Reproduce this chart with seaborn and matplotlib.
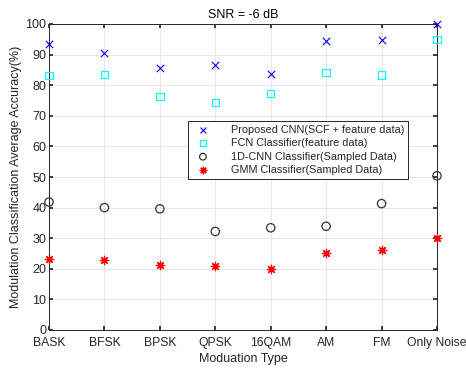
import matplotlib
matplotlib.use("Agg")
import matplotlib.pyplot as plt
import seaborn as sns
import pandas as pd

categories = ["BASK", "BFSK", "BPSK", "QPSK", "16QAM", "AM", "FM", "Only Noise"]
cnn = [93.5, 90.5, 85.5, 86.5, 83.5, 94.5, 94.7, 100.0]
fcn = [83.2, 83.4, 76.3, 74.3, 77.3, 84.2, 83.3, 94.9]
cnn1d = [41.8, 40.0, 39.6, 32.2, 33.4, 33.9, 41.3, 50.4]
gmm = [23.2, 22.9, 21.1, 20.9, 19.8, 25.1, 26.0, 30.0]
labels = ["Proposed CNN(SCF + feature data)", "FCN Classifier(feature data)",
          "1D-CNN Classifier(Sampled Data)", "GMM Classifier(Sampled Data)"]

sns.set_theme(style="whitegrid")
plt.rcParams['font.family'] = ['Liberation Sans', 'DejaVu Sans']
txt = '#262626'

fig = plt.figure(figsize=(4.66, 3.70), dpi=100)
ax = fig.add_axes([49/466, 1-330/370, (437-49)/466, (330-24)/370])

x = list(range(len(categories)))
specs = [
    (cnn, dict(marker='x', color='#0000ff', s=28, linewidths=0.8)),
    (fcn, dict(marker='s', facecolor='none', edgecolor='#00ffff', s=28, linewidths=0.9)),
    (cnn1d, dict(marker='o', facecolor='none', edgecolor='#333333', s=36, linewidths=0.9)),
    (gmm, dict(marker=(8, 2, 0), color='#ff0000', s=36, linewidths=0.9)),
]
for (vals, kw), lab in zip(specs, labels):
    df = pd.DataFrame({"x": x, "y": vals})
    sns.scatterplot(data=df, x="x", y="y", ax=ax, label=lab, clip_on=False, zorder=5, **kw)

ax.set_xlim(0, 7)
ax.set_ylim(0, 100)
ax.set_xticks(x)
ax.set_xticklabels(categories)
ax.set_yticks(range(0, 101, 10))
ax.tick_params(axis='both', direction='in', length=3, labelsize=9, colors=txt, pad=2,
               left=True, bottom=True, top=True, right=True)
ax.tick_params(axis='x', pad=5, labelsize=8.7)
ax.tick_params(labeltop=False, labelright=False)
ax.grid(True, color='#e6e6e6', linewidth=0.7)
ax.set_facecolor('white')
for sp in ax.spines.values():
    sp.set_color('#262626')
    sp.set_linewidth(0.7)
    sp.set_visible(True)

ax.set_xlabel("Moduation Type", fontsize=9, color=txt, labelpad=3)
ax.set_ylabel("Modulation Classification Average Accuracy(%)", fontsize=9, color=txt, labelpad=2)
ax.set_title("SNR = -6 dB", fontsize=9, color='black', pad=4)

leg = ax.legend(loc='upper left', bbox_to_anchor=(0.345, 0.70), fontsize=7.8, frameon=True,
                fancybox=False, edgecolor='#262626', framealpha=1, handletextpad=1.6,
                borderpad=0.35, labelspacing=0.3, markerscale=0.8, handlelength=2.0)
leg.get_frame().set_linewidth(0.7)
for t in leg.get_texts():
    t.set_color(txt)

fig.savefig("out.png", dpi=100, facecolor='white')
